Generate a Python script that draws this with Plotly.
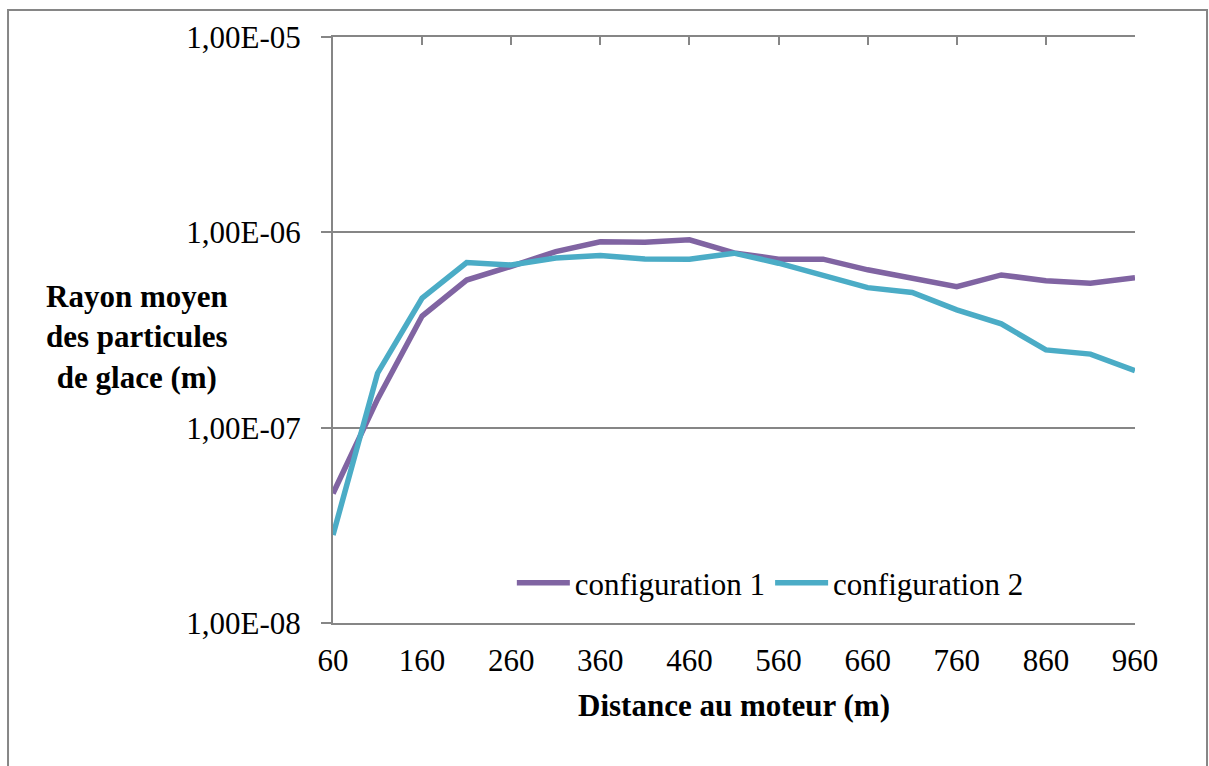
import plotly.graph_objects as go

distance = [60, 110, 160, 210, 260, 310, 360, 410, 460, 510, 560, 610, 660, 710, 760, 810, 860, 910, 960]
config1 = [4.6e-8, 1.4e-7, 3.73e-7, 5.7e-7, 6.7e-7, 7.97e-7, 8.94e-7, 8.9e-7, 9.15e-7, 7.85e-7,
           7.29e-7, 7.29e-7, 6.43e-7, 5.78e-7, 5.27e-7, 6.05e-7, 5.65e-7, 5.49e-7, 5.86e-7]
config2 = [2.82e-8, 1.9e-7, 4.6e-7, 7.0e-7, 6.8e-7, 7.38e-7, 7.6e-7, 7.31e-7, 7.29e-7, 7.82e-7,
           6.95e-7, 6.05e-7, 5.21e-7, 4.92e-7, 4.01e-7, 3.40e-7, 2.50e-7, 2.38e-7, 1.96e-7]
series_names = ["configuration 1", "configuration 2"]
x_ticks = [60, 160, 260, 360, 460, 560, 660, 760, 860, 960]
y_tickvals = [1e-8, 1e-7, 1e-6, 1e-5]
y_ticktext = ["1,00E-08", "1,00E-07", "1,00E-06", "1,00E-05"]

FONT = "Liberation Serif, Times New Roman, serif"
GRAY = "#868686"

fig = go.Figure()
fig.add_trace(go.Scatter(x=distance, y=config1, mode="lines", name=series_names[0],
                         line=dict(color="#8064A2", width=5.5), xaxis="x", yaxis="y"))
fig.add_trace(go.Scatter(x=distance, y=config2, mode="lines", name=series_names[1],
                         line=dict(color="#4BACC6", width=5.5), xaxis="x2", yaxis="y"))

fig.update_layout(
    width=1209, height=766,
    margin=dict(l=333, r=74, t=37, b=143),
    paper_bgcolor="white", plot_bgcolor="white",
    font=dict(family=FONT, size=31, color="black"),
    showlegend=True,
    legend=dict(orientation="h", x=0.223, y=0.068, xanchor="left", yanchor="middle",
                bgcolor="rgba(0,0,0,0)", font=dict(size=31, family=FONT),
                itemwidth=53, tracegroupgap=0),
    xaxis=dict(range=[60, 960], tickvals=x_ticks, showgrid=False, zeroline=False,
               showline=True, linecolor=GRAY, linewidth=2, ticks="",
               ticklabelstandoff=9, tickfont=dict(size=31, family=FONT)),
    xaxis2=dict(range=[60, 960], matches="x", overlaying="x", side="top", tickvals=x_ticks,
                showticklabels=False, showgrid=False, zeroline=False,
                showline=True, linecolor=GRAY, linewidth=2,
                ticks="inside", ticklen=8, tickwidth=2, tickcolor=GRAY),
    yaxis=dict(type="log", range=[-8, -5], tickvals=y_tickvals, ticktext=y_ticktext,
               showgrid=True, gridcolor=GRAY, gridwidth=1.5, zeroline=False,
               showline=True, linecolor=GRAY, linewidth=2,
               ticks="outside", ticklen=10, tickwidth=2, tickcolor=GRAY,
               ticklabelstandoff=14, tickfont=dict(size=31, family=FONT)),
    annotations=[
        dict(text="<b>Distance au moteur (m)</b>", xref="paper", yref="paper",
             x=0.5, y=-0.14, xanchor="center", yanchor="middle", showarrow=False,
             font=dict(size=31, family=FONT)),
        dict(text="<b>Rayon moyen<br>des particules<br>de glace (m)</b>", xref="paper", yref="paper",
             x=-0.2444, y=0.488, xanchor="center", yanchor="middle", showarrow=False,
             align="center", font=dict(size=31, family=FONT)),
    ],
    shapes=[
        dict(type="rect", xref="paper", yref="paper", x0=-0.4052, x1=1.0898, y0=-0.27, y1=1.046,
             line=dict(color=GRAY, width=2), fillcolor="rgba(0,0,0,0)", layer="below"),
    ],
)

fig.write_html("out.html", config={"displayModeBar": False},
               post_script="document.body.style.margin='0';")
